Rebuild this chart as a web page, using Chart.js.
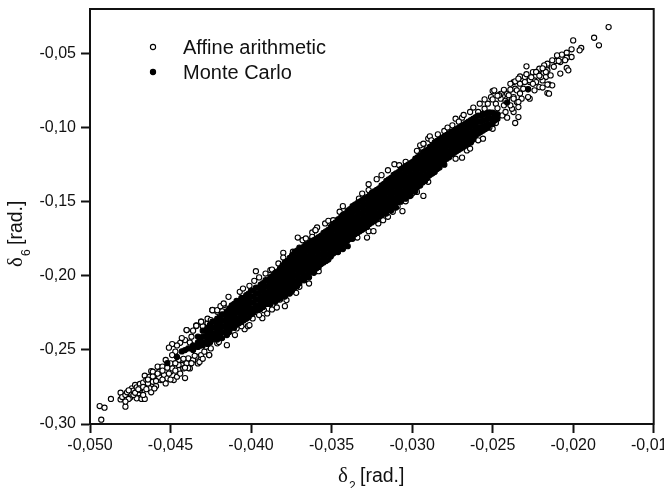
<!DOCTYPE html>
<html>
<head>
<meta charset="utf-8">
<title>Affine arithmetic vs Monte Carlo</title>
<script src="https://cdn.jsdelivr.net/npm/chart.js@4"></script>
<style>
  html, body { margin: 0; padding: 0; background: #fff; }
  canvas { display: block; }
</style>
</head>
<body>
<canvas id="scatterChart" width="664" height="488"></canvas>
<script>
const xTicks = [-0.05, -0.045, -0.04, -0.035, -0.03, -0.025, -0.02, -0.015];
const xTickLabels = ['-0,050', '-0,045', '-0,040', '-0,035', '-0,030', '-0,025', '-0,020', '-0,015'];
const yTicks = [-0.3, -0.25, -0.2, -0.15, -0.1, -0.05];
const yTickLabels = ['-0,30', '-0,25', '-0,20', '-0,15', '-0,10', '-0,05'];
const seriesNames = ['Affine arithmetic', 'Monte Carlo'];

// lower tail
const affineTailLow = [
  [-0.0493,-0.2971],[-0.0494,-0.2879],[-0.0491,-0.2890],[-0.0487,-0.2831],[-0.0481,-0.2789],[-0.0481,-0.2834],
  [-0.0480,-0.2818],[-0.0478,-0.2883],[-0.0478,-0.2804],[-0.0477,-0.2786],[-0.0475,-0.2822],[-0.0476,-0.2831],
  [-0.0474,-0.2759],[-0.0473,-0.2775],[-0.0472,-0.2737],[-0.0471,-0.2753],[-0.0470,-0.2793],[-0.0471,-0.2827],
  [-0.0468,-0.2831],[-0.0466,-0.2831],[-0.0467,-0.2804],[-0.0469,-0.2771],[-0.0469,-0.2730],[-0.0466,-0.2674],
  [-0.0467,-0.2721],[-0.0465,-0.2703],[-0.0463,-0.2681],[-0.0462,-0.2643],[-0.0464,-0.2737],[-0.0463,-0.2759],
  [-0.0462,-0.2786],[-0.0461,-0.2715],[-0.0460,-0.2670],[-0.0459,-0.2744],[-0.0458,-0.2613],[-0.0457,-0.2647],
  [-0.0456,-0.2703],[-0.0454,-0.2670],[-0.0453,-0.2726],[-0.0452,-0.2692],[-0.0450,-0.2647],[-0.0449,-0.2625],
  [-0.0448,-0.2703],[-0.0446,-0.2681],[-0.0441,-0.2690],[-0.0453,-0.2568],[-0.0445,-0.2636],[-0.0443,-0.2602],
  [-0.0447,-0.2512],[-0.0449,-0.2461],[-0.0451,-0.2485],[-0.0449,-0.2535],[-0.0445,-0.2568],[-0.0440,-0.2591],
  [-0.0438,-0.2625],[-0.0439,-0.2557],[-0.0433,-0.2591],[-0.0434,-0.2546],[-0.0436,-0.2568],[-0.0431,-0.2535],
  [-0.0429,-0.2512],[-0.0426,-0.2535],[-0.0425,-0.2490],[-0.0440,-0.2366],[-0.0434,-0.2335],[-0.0431,-0.2310],
  [-0.0427,-0.2321],[-0.0441,-0.2434],[-0.0444,-0.2452],[-0.0437,-0.2411],[-0.0421,-0.2456],[-0.0420,-0.2411],
  [-0.0424,-0.2231],[-0.0421,-0.2243],[-0.0450,-0.2591],[-0.0455,-0.2613],[-0.0461,-0.2647],[-0.0457,-0.2685],
  [-0.0464,-0.2726],[-0.0469,-0.2759],[-0.0473,-0.2804],[-0.0478,-0.2849],[-0.0445,-0.2602],[-0.0442,-0.2625],
  [-0.0428,-0.2479],[-0.0410,-0.2400],[-0.0404,-0.2360],[-0.0415,-0.2468],[-0.0420,-0.2447],[-0.0426,-0.2535],
  [-0.0432,-0.2582],[-0.0439,-0.2623],[-0.0393,-0.2286],[-0.0440,-0.2366],[-0.0431,-0.2312],[-0.0434,-0.2339],
  [-0.0424,-0.2232],[-0.0417,-0.2198],
  [-0.0476,-0.2773],[-0.0472,-0.2789],[-0.0470,-0.2766],[-0.0467,-0.2750],[-0.0465,-0.2765],[-0.0464,-0.2700],
  [-0.0461,-0.2680],[-0.0460,-0.2760],[-0.0459,-0.2710],[-0.0458,-0.2660],[-0.0455,-0.2700],[-0.0455,-0.2640],
  [-0.0452,-0.2620],[-0.0451,-0.2660],[-0.0450,-0.2700],[-0.0447,-0.2640],[-0.0447,-0.2590],[-0.0444,-0.2660],
  [-0.0442,-0.2560],[-0.0441,-0.2620],[-0.0437,-0.2590],[-0.0435,-0.2540],[-0.0430,-0.2560],[-0.0446,-0.2470],
  [-0.0443,-0.2420],[-0.0436,-0.2370],[-0.0438,-0.2450],[-0.0430,-0.2340],[-0.0427,-0.2290],[-0.0418,-0.2240]
];

// both edges of the middle of the band
const affineEdges = [
  [-0.0434,-0.2337],[-0.0431,-0.2310],[-0.0424,-0.2232],[-0.0421,-0.2232],[-0.0419,-0.2205],[-0.0414,-0.2142],
  [-0.0407,-0.2108],[-0.0405,-0.2086],[-0.0401,-0.2068],[-0.0397,-0.1969],[-0.0398,-0.2034],[-0.0395,-0.2011],
  [-0.0391,-0.1985],[-0.0388,-0.1962],[-0.0387,-0.1958],[-0.0383,-0.1917],[-0.0380,-0.1845],[-0.0380,-0.1877],
  [-0.0374,-0.1838],[-0.0371,-0.1742],[-0.0368,-0.1760],[-0.0365,-0.1760],[-0.0362,-0.1708],[-0.0360,-0.1692],
  [-0.0359,-0.1674],[-0.0425,-0.2299],[-0.0417,-0.2187],[-0.0406,-0.2340],[-0.0402,-0.2340],[-0.0401,-0.2333],
  [-0.0399,-0.2288],[-0.0395,-0.2265],[-0.0392,-0.2232],[-0.0390,-0.2254],[-0.0387,-0.2227],[-0.0385,-0.2176],
  [-0.0384,-0.2214],[-0.0382,-0.2160],[-0.0379,-0.2205],[-0.0378,-0.2164],[-0.0376,-0.2115],[-0.0372,-0.2115],
  [-0.0370,-0.2074],[-0.0365,-0.2007],[-0.0364,-0.2052],[-0.0358,-0.1969],[-0.0409,-0.2355],
  [-0.0366,-0.1748],[-0.0362,-0.1737],[-0.0360,-0.1692],[-0.0354,-0.1647],[-0.0352,-0.1629],[-0.0349,-0.1625],
  [-0.0345,-0.1568],[-0.0343,-0.1530],[-0.0331,-0.1445],[-0.0327,-0.1422],[-0.0327,-0.1382],[-0.0322,-0.1348],
  [-0.0319,-0.1321],[-0.0315,-0.1288],[-0.0311,-0.1247],[-0.0308,-0.1254],[-0.0304,-0.1231],[-0.0297,-0.1157],
  [-0.0294,-0.1135],[-0.0293,-0.1112],[-0.0290,-0.1074],[-0.0333,-0.1479],[-0.0334,-0.1742],[-0.0328,-0.1742],
  [-0.0327,-0.1699],[-0.0324,-0.1699],[-0.0321,-0.1647],[-0.0318,-0.1625],[-0.0315,-0.1602],[-0.0312,-0.1568],
  [-0.0306,-0.1564],[-0.0304,-0.1497],[-0.0302,-0.1463],[-0.0300,-0.1445],[-0.0297,-0.1434],[-0.0293,-0.1461],
  [-0.0290,-0.1366],[-0.0309,-0.1530]
];

// upper tail
const affineTailHigh = [
  [-0.0295,-0.1120],[-0.0293,-0.1109],[-0.0289,-0.1059],[-0.0288,-0.1086],[-0.0284,-0.1046],[-0.0280,-0.1023],
  [-0.0275,-0.0985],[-0.0273,-0.0940],[-0.0269,-0.0933],[-0.0264,-0.0895],[-0.0259,-0.0895],[-0.0258,-0.0839],
  [-0.0253,-0.0839],[-0.0250,-0.0754],[-0.0251,-0.0794],[-0.0245,-0.0772],[-0.0241,-0.0772],[-0.0237,-0.0693],
  [-0.0236,-0.0738],[-0.0233,-0.0655],[-0.0229,-0.0587],[-0.0230,-0.0659],[-0.0225,-0.0626],[-0.0221,-0.0614],
  [-0.0216,-0.0581],[-0.0216,-0.0614],[-0.0217,-0.0659],[-0.0224,-0.0682],[-0.0227,-0.0693],[-0.0233,-0.0704],
  [-0.0231,-0.0738],[-0.0237,-0.0794],[-0.0241,-0.0805],[-0.0245,-0.0805],[-0.0248,-0.0839],[-0.0255,-0.0873],
  [-0.0256,-0.0907],[-0.0273,-0.1210],[-0.0269,-0.1203],[-0.0266,-0.1154],[-0.0264,-0.1142],[-0.0261,-0.1075],
  [-0.0256,-0.1075],[-0.0259,-0.1086],[-0.0250,-0.1008],[-0.0248,-0.0969],[-0.0241,-0.0933],[-0.0244,-0.0918],
  [-0.0242,-0.0895],[-0.0236,-0.0969],[-0.0234,-0.0929],[-0.0237,-0.0895],[-0.0234,-0.0862],[-0.0238,-0.0873],
  [-0.0235,-0.0828],[-0.0232,-0.0805],[-0.0227,-0.0805],[-0.0224,-0.0749],[-0.0216,-0.0767],[-0.0221,-0.0727],
  [-0.0228,-0.0794],[-0.0219,-0.0682],[-0.0215,-0.0709],[-0.0243,-0.0850],
  [-0.0178,-0.0322],[-0.0187,-0.0394],[-0.0184,-0.0445],[-0.0200,-0.0412],[-0.0195,-0.0463],[-0.0196,-0.0479],
  [-0.0201,-0.0472],[-0.0201,-0.0524],[-0.0204,-0.0495],[-0.0204,-0.0529],[-0.0207,-0.0508],[-0.0210,-0.0513],
  [-0.0208,-0.0558],[-0.0211,-0.0551],[-0.0213,-0.0546],[-0.0216,-0.0569],[-0.0218,-0.0580],[-0.0204,-0.0598],
  [-0.0203,-0.0614],[-0.0208,-0.0636],[-0.0213,-0.0715],[-0.0215,-0.0771],[-0.0216,-0.0710],[-0.0214,-0.0648],
  [-0.0217,-0.0625],[-0.0221,-0.0603],[-0.0223,-0.0625],[-0.0220,-0.0659],[-0.0223,-0.0693],[-0.0227,-0.0681],
  [-0.0230,-0.0693],[-0.0236,-0.0688],[-0.0239,-0.0744],[-0.0249,-0.0749],[-0.0246,-0.0782],[-0.0240,-0.0782],
  [-0.0235,-0.0749],[-0.0237,-0.0805],[-0.0234,-0.0827],
  [-0.0278,-0.1000],[-0.0271,-0.0960],[-0.0268,-0.0915],[-0.0262,-0.0865],[-0.0255,-0.0810],[-0.0250,-0.0810],
  [-0.0247,-0.0785],[-0.0243,-0.0745],[-0.0239,-0.0705],[-0.0234,-0.0670],[-0.0229,-0.0640],[-0.0226,-0.0660],
  [-0.0221,-0.0650],[-0.0219,-0.0600],[-0.0212,-0.0590],[-0.0209,-0.0550],[-0.0205,-0.0545],[-0.0239,-0.0850],
  [-0.0233,-0.0770],[-0.0228,-0.0740],[-0.0225,-0.0705],[-0.0219,-0.0730],[-0.0242,-0.0820],[-0.0247,-0.0870],
  [-0.0252,-0.0900],[-0.0254,-0.0960],[-0.0252,-0.1000]
];

// the solid part: [x, y, y, ...]
const monteColumns = [
  [-0.0452,-0.2589],[-0.0446,-0.2548],[-0.0443,-0.2510],[-0.0441,-0.2501],[-0.0439,-0.2490],
  [-0.0436,-0.247,-0.250],[-0.0433,-0.241,-0.245,-0.248],[-0.0430,-0.237,-0.241,-0.245,-0.247],
  [-0.0427,-0.235,-0.239,-0.243,-0.246],[-0.0424,-0.231,-0.235,-0.239,-0.243],
  [-0.0421,-0.229,-0.233,-0.237,-0.241,-0.243],[-0.0418,-0.226,-0.230,-0.234,-0.238,-0.242],
  [-0.0415,-0.224,-0.228,-0.232,-0.236,-0.240],[-0.0412,-0.220,-0.224,-0.228,-0.232,-0.235],
  [-0.0409,-0.217,-0.221,-0.225,-0.229,-0.233],[-0.0406,-0.215,-0.219,-0.223,-0.227,-0.231],
  [-0.0403,-0.213,-0.217,-0.221,-0.225,-0.229],[-0.0400,-0.210,-0.214,-0.218,-0.222,-0.226],
  [-0.0397,-0.208,-0.212,-0.216,-0.220,-0.223],[-0.0394,-0.206,-0.210,-0.214,-0.218,-0.222],
  [-0.0391,-0.203,-0.207,-0.211,-0.215,-0.219],[-0.0388,-0.201,-0.205,-0.209,-0.213,-0.217,-0.219],
  [-0.0385,-0.198,-0.202,-0.206,-0.210,-0.214,-0.217],[-0.0382,-0.195,-0.199,-0.203,-0.207,-0.211,-0.215],
  [-0.0379,-0.191,-0.195,-0.199,-0.203,-0.207,-0.211,-0.214],[-0.0376,-0.188,-0.192,-0.196,-0.200,-0.204,-0.208,-0.212],
  [-0.0373,-0.184,-0.188,-0.192,-0.196,-0.200,-0.204,-0.208],[-0.0370,-0.181,-0.185,-0.189,-0.193,-0.197,-0.201,-0.205],
  [-0.0367,-0.180,-0.184,-0.188,-0.192,-0.196,-0.200,-0.203],[-0.0364,-0.178,-0.182,-0.186,-0.190,-0.194,-0.198,-0.201],
  [-0.0361,-0.176,-0.180,-0.184,-0.188,-0.192,-0.196,-0.198],[-0.0358,-0.174,-0.178,-0.182,-0.186,-0.190,-0.194],
  [-0.0355,-0.171,-0.175,-0.179,-0.183,-0.187,-0.191],[-0.0352,-0.169,-0.173,-0.177,-0.181,-0.185,-0.189],
  [-0.0349,-0.165,-0.169,-0.173,-0.177,-0.181,-0.185],[-0.0346,-0.162,-0.166,-0.170,-0.174,-0.178,-0.182,-0.184],
  [-0.0343,-0.159,-0.163,-0.167,-0.171,-0.175,-0.179,-0.182],[-0.0340,-0.156,-0.160,-0.164,-0.168,-0.172,-0.176,-0.180],
  [-0.0337,-0.153,-0.157,-0.161,-0.165,-0.169,-0.173,-0.175],[-0.0334,-0.151,-0.155,-0.159,-0.163,-0.167,-0.171],
  [-0.0331,-0.149,-0.153,-0.157,-0.161,-0.165,-0.169],[-0.0328,-0.147,-0.151,-0.155,-0.159,-0.163,-0.167],
  [-0.0325,-0.144,-0.148,-0.152,-0.156,-0.160,-0.164],[-0.0322,-0.142,-0.146,-0.150,-0.154,-0.158,-0.162],
  [-0.0319,-0.139,-0.143,-0.147,-0.151,-0.155,-0.159],[-0.0316,-0.136,-0.140,-0.144,-0.148,-0.152,-0.156,-0.158],
  [-0.0313,-0.134,-0.138,-0.142,-0.146,-0.150,-0.154,-0.156],[-0.0310,-0.131,-0.135,-0.139,-0.143,-0.147,-0.151,-0.154],
  [-0.0307,-0.128,-0.132,-0.136,-0.140,-0.144,-0.148,-0.150],[-0.0304,-0.126,-0.130,-0.134,-0.138,-0.142,-0.146,-0.148],
  [-0.0301,-0.124,-0.128,-0.132,-0.136,-0.140,-0.144,-0.146],[-0.0298,-0.121,-0.125,-0.129,-0.133,-0.137,-0.141,-0.143],
  [-0.0295,-0.119,-0.123,-0.127,-0.131,-0.135,-0.139],[-0.0292,-0.116,-0.120,-0.124,-0.128,-0.132,-0.136],
  [-0.0289,-0.113,-0.117,-0.121,-0.125,-0.129,-0.132],[-0.0286,-0.110,-0.114,-0.118,-0.122,-0.126,-0.130],
  [-0.0283,-0.108,-0.112,-0.116,-0.120,-0.124,-0.127],[-0.0280,-0.106,-0.110,-0.114,-0.118,-0.122,-0.125],
  [-0.0277,-0.104,-0.108,-0.112,-0.116,-0.120],[-0.0274,-0.102,-0.106,-0.110,-0.114,-0.117],
  [-0.0271,-0.100,-0.104,-0.108,-0.112,-0.115],[-0.0268,-0.098,-0.102,-0.106,-0.110,-0.113],
  [-0.0265,-0.096,-0.100,-0.104,-0.108,-0.111],[-0.0262,-0.094,-0.098,-0.102,-0.106,-0.108],
  [-0.0259,-0.092,-0.096,-0.100,-0.104],[-0.0256,-0.091,-0.095,-0.099,-0.102],
  [-0.0253,-0.090,-0.094,-0.098,-0.100],[-0.0250,-0.090,-0.094,-0.097],[-0.0247,-0.091,-0.094],
  [-0.0241,-0.0830],[-0.0228,-0.0742],
  // points between the columns above
  [-0.04315,-0.243,-0.247],[-0.04285,-0.237,-0.241,-0.245],[-0.04255,-0.233,-0.237,-0.241,-0.245],
  [-0.04225,-0.231,-0.235,-0.239,-0.242],[-0.04195,-0.228,-0.232,-0.236,-0.240],[-0.04165,-0.226,-0.230,-0.234,-0.238],
  [-0.04135,-0.222,-0.226,-0.230,-0.234,-0.238],[-0.04105,-0.219,-0.223,-0.227,-0.231,-0.235],
  [-0.04075,-0.217,-0.221,-0.225,-0.229,-0.232],[-0.04045,-0.215,-0.219,-0.223,-0.227,-0.230],
  [-0.04015,-0.212,-0.216,-0.220,-0.224,-0.228],[-0.03985,-0.210,-0.214,-0.218,-0.222,-0.225],
  [-0.03955,-0.208,-0.212,-0.216,-0.220,-0.223],[-0.03925,-0.205,-0.209,-0.213,-0.217,-0.221],
  [-0.03895,-0.203,-0.207,-0.211,-0.215,-0.219],[-0.03865,-0.200,-0.204,-0.208,-0.212,-0.216],
  [-0.03835,-0.197,-0.201,-0.205,-0.209,-0.213,-0.216],[-0.03805,-0.193,-0.197,-0.201,-0.205,-0.209,-0.213],
  [-0.03775,-0.190,-0.194,-0.198,-0.202,-0.206,-0.210,-0.212],[-0.03745,-0.186,-0.190,-0.194,-0.198,-0.202,-0.206,-0.210],
  [-0.03715,-0.183,-0.187,-0.191,-0.195,-0.199,-0.203,-0.207],[-0.03685,-0.182,-0.186,-0.190,-0.194,-0.198,-0.202],
  [-0.03655,-0.179,-0.183,-0.187,-0.191,-0.195,-0.199],[-0.03625,-0.177,-0.181,-0.185,-0.189,-0.193,-0.197],
  [-0.03595,-0.175,-0.179,-0.183,-0.187,-0.191,-0.195],[-0.03565,-0.173,-0.177,-0.181,-0.185,-0.189,-0.192],
  [-0.03535,-0.170,-0.174,-0.178,-0.182,-0.186,-0.190],[-0.03505,-0.167,-0.171,-0.175,-0.179,-0.183,-0.187],
  [-0.03475,-0.164,-0.168,-0.172,-0.176,-0.180,-0.184],[-0.03445,-0.161,-0.165,-0.169,-0.173,-0.177,-0.181],
  [-0.03415,-0.158,-0.162,-0.166,-0.170,-0.174,-0.178],[-0.03385,-0.155,-0.159,-0.163,-0.167,-0.171,-0.175],
  [-0.03355,-0.152,-0.156,-0.160,-0.164,-0.168,-0.172],[-0.03325,-0.150,-0.154,-0.158,-0.162,-0.166,-0.170],
  [-0.03295,-0.148,-0.152,-0.156,-0.160,-0.164,-0.168],[-0.03265,-0.146,-0.150,-0.154,-0.158,-0.162,-0.165],
  [-0.03235,-0.143,-0.147,-0.151,-0.155,-0.159,-0.163],[-0.03205,-0.141,-0.145,-0.149,-0.153,-0.157,-0.160],
  [-0.03175,-0.138,-0.142,-0.146,-0.150,-0.154,-0.158],[-0.03145,-0.135,-0.139,-0.143,-0.147,-0.151,-0.155],
  [-0.03115,-0.132,-0.136,-0.140,-0.144,-0.148,-0.152],[-0.03085,-0.130,-0.134,-0.138,-0.142,-0.146,-0.150],
  [-0.03055,-0.127,-0.131,-0.135,-0.139,-0.143,-0.147],[-0.03025,-0.125,-0.129,-0.133,-0.137,-0.141,-0.145],
  [-0.02995,-0.123,-0.127,-0.131,-0.135,-0.139,-0.143],[-0.02965,-0.120,-0.124,-0.128,-0.132,-0.136,-0.140],
  [-0.02935,-0.117,-0.121,-0.125,-0.129,-0.133,-0.137],[-0.02905,-0.115,-0.119,-0.123,-0.127,-0.131,-0.134],
  [-0.02875,-0.112,-0.116,-0.120,-0.124,-0.128,-0.131],[-0.02845,-0.109,-0.113,-0.117,-0.121,-0.125,-0.128],
  [-0.02815,-0.107,-0.111,-0.115,-0.119,-0.123],[-0.02785,-0.105,-0.109,-0.113,-0.117,-0.121],
  [-0.02755,-0.103,-0.107,-0.111,-0.115,-0.118],[-0.02725,-0.101,-0.105,-0.109,-0.113,-0.116],
  [-0.02695,-0.099,-0.103,-0.107,-0.111,-0.114],[-0.02665,-0.097,-0.101,-0.105,-0.109,-0.112],
  [-0.02635,-0.095,-0.099,-0.103,-0.107,-0.110],[-0.02605,-0.093,-0.097,-0.101,-0.105],
  [-0.02575,-0.092,-0.096,-0.100,-0.103],[-0.02545,-0.091,-0.095,-0.099,-0.101],
  [-0.02515,-0.090,-0.094,-0.098],[-0.02485,-0.091,-0.095]
];

const inkColor = '#111111';
const tickFont = { family: '"Liberation Sans", Arial, sans-serif', size: 16 };

function toPoints(pairs) {
  return pairs.map(p => ({ x: p[0], y: p[1] }));
}

const affinePoints = toPoints(affineTailLow.concat(affineEdges, affineTailHigh));
const montePoints = monteColumns.flatMap(col => col.slice(1).map(y => ({ x: col[0], y: y })));

// frame around the plot, the axes only give left and bottom
const plotFrame = {
  id: 'plotFrame',
  afterDatasetsDraw(chart) {
    const a = chart.chartArea;
    const ctx = chart.ctx;
    ctx.save();
    ctx.strokeStyle = inkColor;
    ctx.lineWidth = 2;
    ctx.strokeRect(a.left, a.top, a.right - a.left, a.bottom - a.top);
    ctx.restore();
  }
};

// axis titles need a serif delta and a subscript, one font per title is not enough
function drawDeltaTitle(ctx, sub) {
  ctx.textAlign = 'left';
  ctx.textBaseline = 'alphabetic';
  ctx.fillStyle = inkColor;
  ctx.font = '21px "Liberation Serif", serif';
  ctx.fillText('δ', 0, 0);
  ctx.font = '12px "Liberation Sans", Arial, sans-serif';
  ctx.fillText(sub, 11, 8);
  ctx.font = '19.5px "Liberation Sans", Arial, sans-serif';
  ctx.fillText('[rad.]', 22, 0);
}

const axisTitles = {
  id: 'axisTitles',
  afterDraw(chart) {
    const ctx = chart.ctx;
    ctx.save();
    ctx.translate(338, 482);
    drawDeltaTitle(ctx, '2');
    ctx.restore();
    ctx.save();
    ctx.translate(22, 267);
    ctx.rotate(-Math.PI / 2);
    drawDeltaTitle(ctx, '6');
    ctx.restore();
  }
};

const insideLegend = {
  id: 'insideLegend',
  afterDraw(chart) {
    const ctx = chart.ctx;
    ctx.save();
    chart.data.datasets.forEach((ds, i) => {
      const rowY = 47 + i * 25;
      ctx.beginPath();
      ctx.arc(153, rowY, ds.pointRadius, 0, Math.PI * 2);
      ctx.fillStyle = ds.pointBackgroundColor;
      ctx.fill();
      ctx.lineWidth = ds.pointBorderWidth;
      ctx.strokeStyle = ds.pointBorderColor;
      ctx.stroke();
      ctx.fillStyle = inkColor;
      ctx.font = '20px "Liberation Sans", Arial, sans-serif';
      ctx.textAlign = 'left';
      ctx.textBaseline = 'middle';
      ctx.fillText(ds.label, 183, rowY + 1);
    });
    ctx.restore();
  }
};

new Chart(document.getElementById('scatterChart'), {
  type: 'scatter',
  data: {
    datasets: [
      {
        label: seriesNames[0],
        data: affinePoints,
        order: 1,
        pointRadius: 2.6,
        pointBackgroundColor: '#ffffff',
        pointBorderColor: '#000000',
        pointBorderWidth: 1.1
      },
      {
        label: seriesNames[1],
        data: montePoints,
        order: 0,
        pointRadius: 2.6,
        pointBackgroundColor: '#000000',
        pointBorderColor: '#000000',
        pointBorderWidth: 1.1
      }
    ]
  },
  options: {
    responsive: false,
    animation: false,
    layout: { padding: { left: 0, right: 10.3, top: 9, bottom: 0 } },
    plugins: {
      legend: { display: false },
      tooltip: { enabled: false }
    },
    scales: {
      x: {
        type: 'linear',
        min: -0.05,
        max: -0.015,
        afterBuildTicks: scale => { scale.ticks = xTicks.map(v => ({ value: v })); },
        afterFit: scale => { scale.height = 64; scale.paddingLeft = 0; scale.paddingRight = 0; },
        grid: { drawOnChartArea: false, tickLength: 9, tickWidth: 2, tickColor: inkColor },
        border: { color: inkColor, width: 2 },
        ticks: {
          color: inkColor,
          font: tickFont,
          padding: 3,
          maxRotation: 0,
          autoSkip: false,
          callback: (v, i) => xTickLabels[i]
        }
      },
      y: {
        type: 'linear',
        min: -0.3,
        max: -0.02,
        afterBuildTicks: scale => { scale.ticks = yTicks.map(v => ({ value: v })); },
        afterFit: scale => { scale.width = 90; scale.paddingTop = 0; scale.paddingBottom = 0; },
        grid: { drawOnChartArea: false, tickLength: 9, tickWidth: 2, tickColor: inkColor },
        border: { color: inkColor, width: 2 },
        ticks: {
          color: inkColor,
          font: tickFont,
          padding: 5,
          autoSkip: false,
          callback: (v, i) => yTickLabels[i]
        }
      }
    }
  },
  plugins: [plotFrame, axisTitles, insideLegend]
});
</script>
</body>
</html>
